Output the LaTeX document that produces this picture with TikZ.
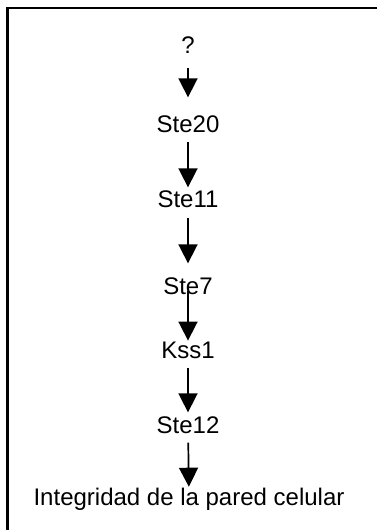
\documentclass[tikz,border=0pt]{standalone}
\usepackage{fontspec}
\setmainfont{Liberation Sans}
\usetikzlibrary{arrows.meta}
\begin{document}
\begin{tikzpicture}[x=0.5pt,y=-0.5pt,
  lbl/.style={inner sep=0pt,anchor=base,font=\fontsize{12}{14}\selectfont},
  arr/.style={line width=0.85pt,-{Triangle[width=9.5pt,length=9.5pt]}},
  frame/.style={line width=1.1pt}]
\useasboundingbox (0,0) rectangle (377,530);
\draw[frame] (377,8) -- (7.5,8) -- (7.5,530);
\node[lbl] (q)   at (188,53)  {?};
\node[lbl] (s20) at (188,132.5) {Ste20};
\node[lbl] (s11) at (188,207) {Ste11};
\node[lbl] (s7)  at (188,294) {Ste7};
\node[lbl] (k1)  at (188,358) {Kss1};
\node[lbl] (s12) at (188,433) {Ste12};
\node[lbl] (ip)  at (189,505) {Integridad de la pared celular};
\draw[arr,shorten <=7.5pt,shorten >=9pt]   (q)   -- (s20);
\draw[arr,shorten <=4.5pt,shorten >=1.25pt] (s20) -- (s11);
\draw[arr,shorten <=5pt,shorten >=6.75pt]  (s11) -- (s7);
\draw[arr,shorten <=-2pt,shorten >=0.25pt] (s7)  -- (k1);
\draw[arr,shorten <=4.5pt,shorten >=1.75pt] (k1) -- (s12);
\draw[arr,shorten <=4.5pt,shorten >=0.25pt] (s12) -- (ip);
\end{tikzpicture}
\end{document}
